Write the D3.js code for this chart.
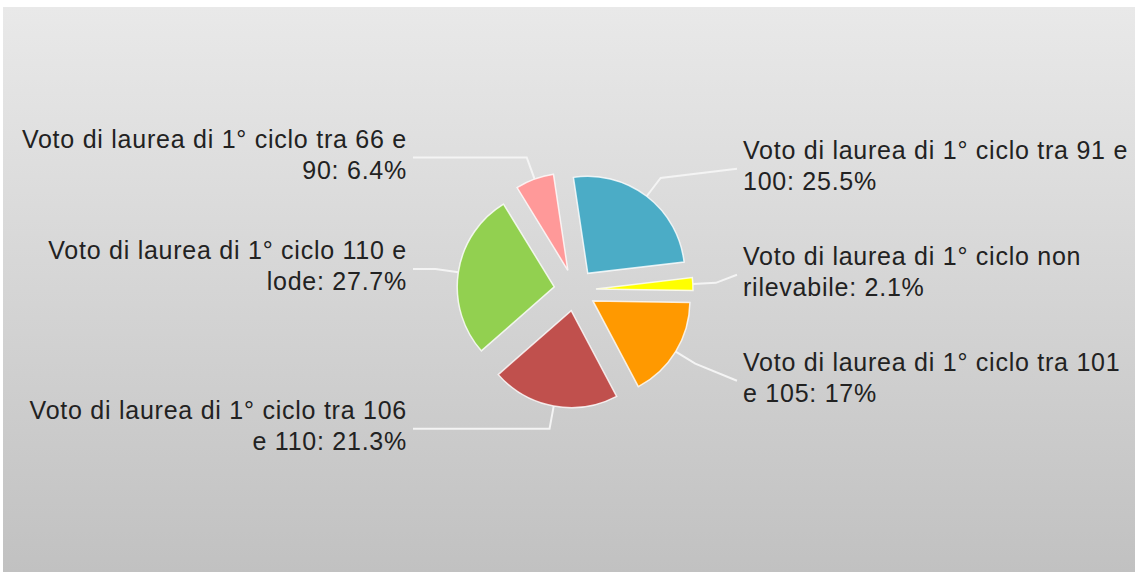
<!DOCTYPE html>
<html>
<head>
<meta charset="utf-8">
<script src="https://cdn.jsdelivr.net/npm/d3@7"></script>
<style>
  html, body { margin: 0; padding: 0; background: #fff; }
  svg { display: block; }
  .lbl { font-family: "Liberation Sans", Arial, Helvetica, sans-serif; font-size: 25px; fill: #222; letter-spacing: 0.75px; }
</style>
</head>
<body>
<div class="chart"></div>
<script>
// chart data
var categories = [
  "Voto di laurea di 1° ciclo tra 91 e 100",
  "Voto di laurea di 1° ciclo non rilevabile",
  "Voto di laurea di 1° ciclo tra 101 e 105",
  "Voto di laurea di 1° ciclo tra 106 e 110",
  "Voto di laurea di 1° ciclo 110 e lode",
  "Voto di laurea di 1° ciclo tra 66 e 90"
];
var values = [25.5, 2.1, 17, 21.3, 27.7, 6.4];
var palette = ["#4bacc6", "#ffff00", "#ff9900", "#c0504d", "#92d050", "#ff9999"];

var svgWidth = 1135, svgHeight = 572;
var cx = 575, cy = 290, radius = 97, explode = 21;
var startDeg = -8.5;

var svg = d3.select(".chart").append("svg")
  .attr("width", svgWidth)
  .attr("height", svgHeight);

// background gradient
var grad = svg.append("defs").append("linearGradient")
  .attr("id", "bg").attr("x1", 0).attr("y1", 0).attr("x2", 0).attr("y2", 1);
grad.append("stop").attr("offset", "0%").attr("stop-color", "#e9e9e9");
grad.append("stop").attr("offset", "100%").attr("stop-color", "#c1c1c1");
svg.append("rect")
  .attr("x", 3).attr("y", 7)
  .attr("width", svgWidth - 3).attr("height", svgHeight - 7)
  .attr("fill", "url(#bg)");

var color = d3.scaleOrdinal().domain(categories).range(palette);

var start = startDeg * Math.PI / 180;
var pie = d3.pie().sort(null).value(function(d) { return d.value; })
  .startAngle(start).endAngle(start + 2 * Math.PI);
var arc = d3.arc().innerRadius(0).outerRadius(radius);

var data = categories.map(function(c, i) { return { name: c, value: values[i] }; });
var arcs = pie(data);

function mid(d) { return (d.startAngle + d.endAngle) / 2; }
function polar(a, r) { return [cx + Math.sin(a) * r, cy - Math.cos(a) * r]; }

var g = svg.append("g");

// slices, pulled out from the centre
g.selectAll("path.slice")
  .data(arcs)
  .enter().append("path")
  .attr("class", "slice")
  .attr("d", arc)
  .attr("transform", function(d) {
    var p = polar(mid(d), explode);
    return "translate(" + p[0] + "," + p[1] + ")";
  })
  .attr("fill", function(d) { return color(d.data.name); })
  .attr("stroke", "#fff")
  .attr("stroke-opacity", 0.8)
  .attr("stroke-width", 1.5);

// label anchors, spread apart per side
var lineGap = 162, minGap = 106;
arcs.forEach(function(d) {
  var a = mid(d);
  d.right = Math.sin(a) > 0;
  d.p0 = polar(a, explode + radius);
  d.p1 = polar(a, explode + radius + 23);
  d.ly = d.p1[1];
});
[true, false].forEach(function(side) {
  var list = arcs.filter(function(d) { return d.right === side; })
    .sort(function(a, b) { return a.ly - b.ly; });
  for (var k = 0; k < 200; k++) {
    for (var i = 0; i < list.length - 1; i++) {
      var gap = list[i + 1].ly - list[i].ly;
      if (gap < minGap) {
        var s = (minGap - gap) / 2;
        list[i].ly -= s;
        list[i + 1].ly += s;
      }
    }
  }
});

// leader lines
g.selectAll("polyline.leader")
  .data(arcs)
  .enter().append("polyline")
  .attr("class", "leader")
  .attr("points", function(d) {
    var ex = d.right ? cx + lineGap : cx - lineGap;
    return [d.p0, d.p1, [ex, d.ly]].map(function(p) { return p.join(","); }).join(" ");
  })
  .attr("fill", "none")
  .attr("stroke", "#f4f4f4")
  .attr("stroke-width", 2);

// wrap label text into lines of at most 35 characters
function wrap(str, maxChars) {
  var words = str.split(" "), lines = [], cur = "";
  words.forEach(function(w) {
    var t = cur ? cur + " " + w : w;
    if (t.length > maxChars && cur) { lines.push(cur); cur = w; }
    else cur = t;
  });
  lines.push(cur);
  return lines;
}

var labels = g.selectAll("text.lbl")
  .data(arcs)
  .enter().append("text")
  .attr("class", "lbl")
  .attr("text-anchor", function(d) { return d.right ? "start" : "end"; })
  .attr("x", function(d) { return d.right ? cx + lineGap + 6 : cx - lineGap - 6; })
  .attr("y", function(d) { return d.ly - 10; });

labels.each(function(d) {
  var el = d3.select(this);
  var lines = wrap(d.data.name + ": " + d.data.value + "%", 35);
  lines.forEach(function(line, i) {
    el.append("tspan")
      .attr("x", el.attr("x"))
      .attr("dy", i === 0 ? 0 : 31)
      .text(line);
  });
});
</script>
</body>
</html>
